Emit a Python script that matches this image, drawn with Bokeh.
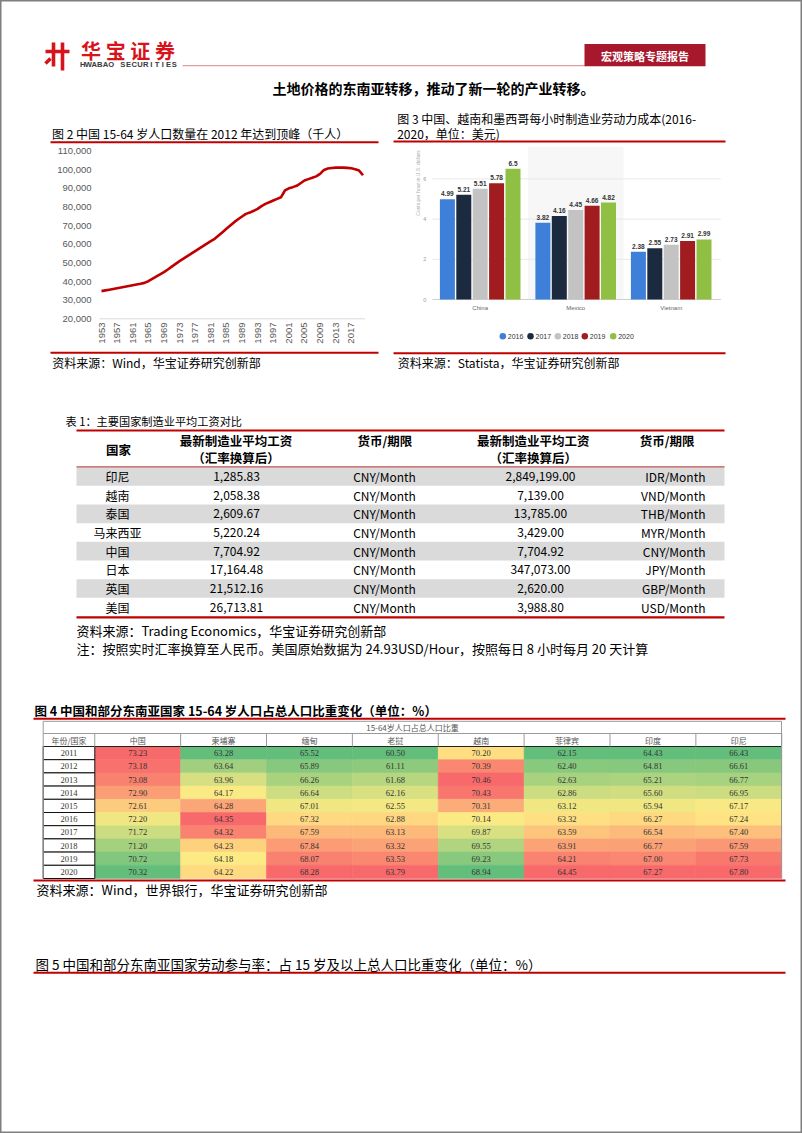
import math
from bokeh.plotting import figure
from bokeh.models import Range1d, ColumnDataSource
from bokeh.core.properties import value
from bokeh.transform import dodge
from bokeh.embed import file_html
from bokeh.resources import INLINE

W, H = 802, 1133
CJK = "Noto Sans CJK SC"

# ---------------- data ----------------
pop_years = list(range(1953, 2021))
pop_values = [34850, 35250, 35650, 36050, 36450, 36850, 37250, 37650, 38050, 38450,
              38850, 39300, 40200, 41400, 42600, 43850, 45050, 46500, 48000, 49500,
              50950, 52300, 53650, 55000, 56350, 57700, 59050, 60400, 61700, 62950,
              64700, 66500, 68300, 70100, 71900, 73450, 74950, 76350, 77050, 78000,
              79050, 80500, 81700, 82600, 83500, 84400, 85300, 88900, 90100, 90700,
              91400, 92800, 94250, 95000, 95700, 96500, 97800, 99950, 100700, 101000,
              101200, 101250, 101200, 101050, 100850, 100350, 99600, 97100]
pop_tick_years = list(range(1953, 2021, 4))
pop_yticks = [20000, 30000, 40000, 50000, 60000, 70000, 80000, 90000, 100000, 110000]

cost_countries = ["China", "Mexico", "Vietnam"]
cost_years = ["2016", "2017", "2018", "2019", "2020"]
cost_2016 = [4.99, 3.82, 2.38]
cost_2017 = [5.21, 4.16, 2.55]
cost_2018 = [5.51, 4.45, 2.73]
cost_2019 = [5.78, 4.66, 2.91]
cost_2020 = [6.5, 4.82, 2.99]
cost_yticks = [0, 2, 4, 6]
cost_colors = ["#3d7fd9", "#1b2a3e", "#c3c3c3", "#a11c1f", "#8fbf43"]

wage_countries = ["印尼", "越南", "泰国", "马来西亚", "中国", "日本", "英国", "美国"]
wage_cny = [1285.83, 2058.38, 2609.67, 5220.24, 7704.92, 17164.48, 21512.16, 26713.81]
wage_cny_unit = ["CNY/Month"] * 8
wage_local = [2849199.00, 7139.00, 13785.00, 3429.00, 7704.92, 347073.00, 2620.00, 3988.80]
wage_local_unit = ["IDR/Month", "VND/Month", "THB/Month", "MYR/Month", "CNY/Month",
                   "JPY/Month", "GBP/Month", "USD/Month"]

share_years = [2011, 2012, 2013, 2014, 2015, 2016, 2017, 2018, 2019, 2020]
share_countries = ["中国", "柬埔寨", "缅甸", "老挝", "越南", "菲律宾", "印度", "印尼"]
share_china = [73.23, 73.18, 73.08, 72.90, 72.61, 72.20, 71.72, 71.20, 70.72, 70.32]
share_cambodia = [63.28, 63.64, 63.96, 64.17, 64.28, 64.35, 64.32, 64.23, 64.18, 64.22]
share_myanmar = [65.52, 65.89, 66.26, 66.64, 67.01, 67.32, 67.59, 67.84, 68.07, 68.28]
share_laos = [60.50, 61.11, 61.68, 62.16, 62.55, 62.88, 63.13, 63.32, 63.53, 63.79]
share_vietnam = [70.20, 70.39, 70.46, 70.43, 70.31, 70.14, 69.87, 69.55, 69.23, 68.94]
share_philippines = [62.15, 62.40, 62.63, 62.86, 63.12, 63.32, 63.59, 63.91, 64.21, 64.45]
share_india = [64.43, 64.81, 65.21, 65.60, 65.94, 66.27, 66.54, 66.77, 67.00, 67.27]
share_indonesia = [66.43, 66.61, 66.77, 66.95, 67.17, 67.24, 67.40, 67.59, 67.73, 67.80]
share_columns = [share_china, share_cambodia, share_myanmar, share_laos,
                 share_vietnam, share_philippines, share_india, share_indonesia]

# ---------------- page canvas ----------------
p = figure(width=W, height=H, x_range=Range1d(0, W), y_range=Range1d(H, 0),
           x_axis_location=None, y_axis_location=None, toolbar_location=None,
           output_backend="svg", min_border=0, outline_line_color="#7f7f7f",
           outline_line_width=2, background_fill_color="white",
           border_fill_color="white")
p.xgrid.visible = False
p.ygrid.visible = False


def set_x(name, v0, p0, v1, p1):
    k = (v1 - v0) / (p1 - p0)
    p.extra_x_ranges[name] = Range1d(start=v0 - p0 * k, end=v0 + (W - p0) * k)


def set_y(name, v0, p0, v1, p1):
    k = (v1 - v0) / (p1 - p0)
    p.extra_y_ranges[name] = Range1d(start=v0 + (H - p0) * k, end=v0 - p0 * k)


def as_list(v, n):
    return v if isinstance(v, list) else [v] * n


def txt(x, y, s, size, color="#000000", align="left", baseline="middle", bold=False,
        font=CJK, angle=0.0, xr="default", yr="default", y_offset=0):
    s = as_list(s, 1)
    n = len(s)
    p.text(x=as_list(x, n), y=as_list(y, n), text=s, text_font=value(font),
           text_font_size=f"{size}px", text_color=color, text_align=align,
           text_baseline=baseline, text_font_style="bold" if bold else "normal",
           angle=angle, x_range_name=xr, y_range_name=yr, y_offset=y_offset)


def hline(y, x0, x1, color, width=1.0):
    p.segment(x0=[x0], y0=[y], x1=[x1], y1=[y], line_color=color, line_width=width)


RED = "#c00000"

# ---------------- header ----------------
p.multi_line(xs=[[45, 69], [53, 53], [62, 62], [45, 50]],
             ys=[[51, 51], [42, 66], [42, 70], [63, 58]],
             line_color="#d7141c", line_width=3.6)
for i, ch in enumerate("华宝证券"):
    txt(90.6 + i * 24.6, 49.5, ch, 20, color="#d7141c", align="center", bold=True)
for i, ch in enumerate("HWABAO SECURITIES"):
    txt(82.2 + i * 5.72, 63.5, ch, 7.6, color="#3a3a3a", align="center", bold=True,
        font="Liberation Sans")
hline(65.2, 182, 585, "#d9868c", 1)
p.quad(left=[584], right=[705], top=[43.5], bottom=[65.8], fill_color="#a8182c",
       line_color=None)
txt(644.5, 55, "宏观策略专题报告", 11, color="white", align="center", bold=True)
txt(433, 87, "土地价格的东南亚转移，推动了新一轮的产业转移。", 14, align="center", bold=True)

# ---------------- figure 2 ----------------
txt(51.5, 132.5, "图 2 中国 15-64 岁人口数量在 2012 年达到顶峰（千人）", 12)
hline(141.7, 50, 378, RED, 2)
set_x("f2x", 1953, 101.0, 2020, 362.5)
set_y("f2y", 20000, 318.3, 110000, 150.7)
p.segment(x0=[1952.5], y0=[20000], x1=[2020.5], y1=[20000], line_color="#d9d9d9",
          line_width=1, x_range_name="f2x", y_range_name="f2y")
p.line(pop_years, pop_values, line_color=RED, line_width=2.6, line_join="round",
       x_range_name="f2x", y_range_name="f2y")
txt(91, pop_yticks, [f"{v:,}" for v in pop_yticks], 9.5, color="#595959",
    align="right", font="Liberation Sans", yr="f2y")
txt(pop_tick_years, 322, [str(y) for y in pop_tick_years], 9.5, color="#595959",
    align="right", font="Liberation Sans", angle=math.pi / 2, xr="f2x")
hline(352.3, 50, 378, RED, 2)
txt(51.7, 362, "资料来源：Wind，华宝证券研究创新部", 12)

# ---------------- figure 3 ----------------
txt(396.7, 118.3, "图 3 中国、越南和墨西哥每小时制造业劳动力成本(2016-", 12)
txt(396.7, 132.8, "2020，单位：美元)", 12)
hline(141.0, 393, 725, RED, 2)
set_x("f3x", 0, 479.7, 2, 670.7)
set_y("f3y", 0, 299.0, 6, 178.4)
p.quad(left=[0.5], right=[1.5], bottom=[0], top=[7.6], fill_color="#f7f7f7",
       line_color=None, x_range_name="f3x", y_range_name="f3y")
for t in cost_yticks[1:]:
    p.segment(x0=[-0.5], y0=[t], x1=[2.52], y1=[t], line_color="#e8e8e8",
              line_width=1, x_range_name="f3x", y_range_name="f3y")
p.segment(x0=[-0.5], y0=[0], x1=[2.52], y1=[0], line_color="#cfcfcf", line_width=1,
          x_range_name="f3x", y_range_name="f3y")
cost_src = ColumnDataSource(dict(g=[0, 1, 2], y2016=cost_2016, y2017=cost_2017,
                                 y2018=cost_2018, y2019=cost_2019, y2020=cost_2020,
                                 l2016=[f"{v:g}" for v in cost_2016],
                                 l2017=[f"{v:g}" for v in cost_2017],
                                 l2018=[f"{v:g}" for v in cost_2018],
                                 l2019=[f"{v:g}" for v in cost_2019],
                                 l2020=[f"{v:g}" for v in cost_2020]))
BAR_PITCH = 16.4 / 95.5
BAR_W = 15.0 / 95.5
for k, yr_ in enumerate(cost_years):
    off = (k - 2) * BAR_PITCH
    p.vbar(x=dodge("g", off), top="y" + yr_, width=BAR_W, source=cost_src,
           fill_color=cost_colors[k], line_color=None,
           x_range_name="f3x", y_range_name="f3y")
    p.text(x=dodge("g", off), y="y" + yr_, text="l" + yr_, source=cost_src,
           text_font=value("Liberation Sans"), text_font_size="6.5px",
           text_font_style="bold", text_color="#333333", text_align="center",
           text_baseline="bottom", y_offset=-3, x_range_name="f3x", y_range_name="f3y")
txt(424.3, cost_yticks, [str(t) for t in cost_yticks], 5.5, color="#999999",
    align="center", font="Liberation Sans", yr="f3y")
txt(417.3, 182.5, "Costs per hour in U.S. dollars", 5, color="#aaaaaa", align="center",
    font="Liberation Sans", angle=math.pi / 2)
txt([0, 1, 2], 307.3, cost_countries, 6, color="#666666", align="center",
    font="Liberation Sans", xr="f3x")
leg_x = [502.3, 530.0, 557.3, 584.3, 612.7]
p.scatter(x=leg_x, y=[335.7] * 5, size=6.5, fill_color=cost_colors, line_color=None)
txt([x + 5 for x in leg_x], 336, cost_years, 7, color="#333333", font="Liberation Sans")
hline(352.7, 393, 725, RED, 2)
txt(397.3, 361.7, "资料来源：Statista，华宝证券研究创新部", 12)

# ---------------- table 1 ----------------
txt(65, 420.5, "表 1：主要国家制造业平均工资对比", 11.2)
set_y("t1y", 0, 476.0, 7, 606.7)
rows = list(range(len(wage_countries)))
p.hbar(y=rows[0::2], left=76, right=724, height=1.0, fill_color="#dadada",
       line_color=None, y_range_name="t1y")
hline(430.0, 76, 724, RED, 2.2)
hline(466.3, 76, 724, "#c0504d", 1.2)
hline(616.8, 76, 724, RED, 2.2)
txt(118, 448.5, "国家", 12.5, bold=True, align="center")
for cx in (235.6, 532.7):
    txt(cx, 440.3, "最新制造业平均工资", 12.5, bold=True, align="center")
    txt(cx, 457.0, "（汇率换算后）", 12.5, bold=True, align="center")
for cx in (384.3, 666.7):
    txt(cx, 440.3, "货币/期限", 12.5, bold=True, align="center")
txt(117, rows, wage_countries, 12, align="center", yr="t1y")
txt(236, rows, [f"{v:,.2f}" for v in wage_cny], 12, align="center", yr="t1y")
txt(384, rows, wage_cny_unit, 12, align="center", yr="t1y")
txt(540, rows, [f"{v:,.2f}" for v in wage_local], 12, align="center", yr="t1y")
txt(705, rows, wage_local_unit, 12, align="right", yr="t1y")
txt(76, 630, "资料来源：Trading Economics，华宝证券研究创新部", 13)
txt(76, 647.5, "注：按照实时汇率换算至人民币。美国原始数据为 24.93USD/Hour，按照每日 8 小时每月 20 天计算", 13)

# ---------------- figure 4 (heat table) ----------------
txt(34, 709.5, "图 4 中国和部分东南亚国家 15-64 岁人口占总人口比重变化（单位：%）", 12.5, bold=True)
hline(718.3, 33, 785, RED, 2)
set_x("h4x", 0, 137.2, 7, 738.3)
set_y("h4y", 0, 752.6, 9, 871.4)

GREEN, YELLOW, REDC = (99, 190, 123), (255, 235, 132), (248, 105, 107)


def mix(a, b, t):
    return "#%02x%02x%02x" % tuple(int(round(a[i] + (b[i] - a[i]) * t)) for i in range(3))


def heat(vals):
    s = sorted(vals)
    mid = (s[4] + s[5]) / 2.0
    lo, hi = s[0], s[-1]
    out = []
    for v in vals:
        if v <= mid:
            out.append(mix(GREEN, YELLOW, (v - lo) / (mid - lo) if mid > lo else 1))
        else:
            out.append(mix(YELLOW, REDC, (v - mid) / (hi - mid) if hi > mid else 0))
    return out


hx, hy, hc, ht = [], [], [], []
for ci, col in enumerate(share_columns):
    cols = heat(col)
    for ri, v in enumerate(col):
        hx.append(ci)
        hy.append(ri)
        hc.append(cols[ri])
        ht.append(f"{v:.2f}")
heat_src = ColumnDataSource(dict(x=hx, y=hy, c=hc, t=ht))
p.rect(x="x", y="y", width=1.0, height=1.0, fill_color="c", line_color="c",
       line_width=0.6, source=heat_src, x_range_name="h4x", y_range_name="h4y")
p.text(x="x", y="y", text="t", source=heat_src, text_font=value("Liberation Serif"),
       text_font_size="8.5px", text_color="#333333", text_align="center",
       text_baseline="middle", x_range_name="h4x", y_range_name="h4y")
yrows = list(range(len(share_years)))
p.rect(x=68.5, y=yrows, width=51.6, height=1.0, fill_color="white", line_color="#111111",
       line_width=1, y_range_name="h4y")
txt(68.5, yrows, [str(y) for y in share_years], 8.5, color="#333333", align="center",
    font="Liberation Serif", yr="h4y")
# table frame
hline(720.8, 42.7, 781, "#9a9a9a", 1)
hline(733.0, 42.7, 781, "#9a9a9a", 1)
hline(746.0, 42.7, 781, "#222222", 1.2)
p.segment(x0=[42.7, 781], y0=[720.8, 720.8], x1=[42.7, 781], y1=[878.0, 878.0],
          line_color="#9a9a9a", line_width=1)
bounds = [i - 0.5 for i in range(len(share_countries) + 1)]
p.segment(x0=bounds, y0=[733.0] * len(bounds), x1=bounds, y1=[746.0] * len(bounds),
          line_color="#9a9a9a", line_width=1, x_range_name="h4x")
txt(412, 727, "15-64岁人口占总人口比重", 8, color="#555555", align="center")
txt(68.5, 739.6, "年份/国家", 8, color="#555555", align="center")
txt(list(range(len(share_countries))), 739.6, share_countries, 8, color="#555555",
    align="center", xr="h4x")
hline(880.0, 33, 785, RED, 2)
txt(36, 889, "资料来源：Wind，世界银行，华宝证券研究创新部", 13)

# ---------------- figure 5 caption ----------------
txt(35, 963, "图 5 中国和部分东南亚国家劳动参与率：占 15 岁及以上总人口比重变化（单位：%）", 13.5)
hline(972.3, 33, 785, RED, 2)

open("out.html", "w").write(file_html(p, INLINE))
